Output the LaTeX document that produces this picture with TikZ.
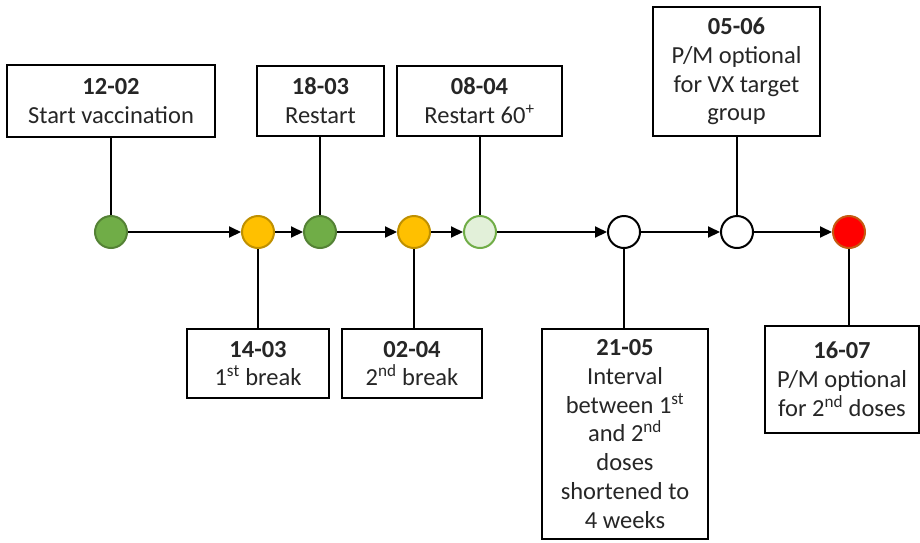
\documentclass[tikz,border=0pt]{standalone}
\usepackage{fontspec}
\setmainfont{Carlito}
\usetikzlibrary{arrows.meta}
\definecolor{dgreen}{HTML}{70AD47}
\definecolor{dgreenb}{HTML}{548235}
\definecolor{lgreen}{HTML}{E2F0D9}
\definecolor{yel}{HTML}{FFC000}
\definecolor{yelb}{HTML}{BF9000}
\definecolor{redf}{HTML}{FF0000}
\definecolor{redb}{HTML}{C55A11}
\definecolor{txt}{HTML}{262626}
\tikzset{
  box/.style={draw=black, line width=2.2pt, fill=white, align=center, inner sep=0pt,
    text=txt, font=\fontsize{24.5}{28.8}\selectfont},
  dot/.style={circle, line width=2pt, minimum size=32pt, inner sep=0pt},
  arr/.style={line width=2pt, -{Triangle[length=12pt,width=11pt]}},
  stem/.style={line width=2.4pt}
}
\begin{document}
\begin{tikzpicture}[x=1pt,y=-1pt]
\useasboundingbox (0,0) rectangle (920,542);
% circles
\node[dot, draw=dgreenb, fill=dgreen] (c1) at (111,232) {};
\node[dot, draw=yelb, fill=yel] (c2) at (258,232) {};
\node[dot, draw=dgreenb, fill=dgreen] (c3) at (320,232) {};
\node[dot, draw=yelb, fill=yel] (c4) at (414,232) {};
\node[dot, draw=dgreen, fill=lgreen] (c5) at (480,232) {};
\node[dot, draw=black, fill=white] (c6) at (624,232) {};
\node[dot, draw=black, fill=white] (c7) at (737,232) {};
\node[dot, draw=redb, fill=redf] (c8) at (849,232) {};
% arrows
\draw[arr] (c1) -- (c2);
\draw[arr] (c2) -- (c3);
\draw[arr] (c3) -- (c4);
\draw[arr] (c4) -- (c5);
\draw[arr] (c5) -- (c6);
\draw[arr] (c6) -- (c7);
\draw[arr] (c7) -- (c8);
% boxes
\node[box, minimum width=208pt, minimum height=72pt] (b1) at (111,101) {\textbf{12-02}\\Start vaccination};
\node[box, minimum width=127pt, minimum height=70pt] (b2) at (320.5,101) {\textbf{18-03}\\Restart};
\node[box, minimum width=165pt, minimum height=70pt] (b3) at (479.5,101) {\textbf{08-04}\\Restart 60\textsuperscript{+}};
\node[box, minimum width=167pt, minimum height=129pt] (b4) at (736.5,71.5) {\textbf{05-06}\\P/M optional\\for VX target\\group};
\node[box, minimum width=142pt, minimum height=69pt] (b5) at (258,363.5) {\textbf{14-03}\\1\textsuperscript{st} break};
\node[box, minimum width=140pt, minimum height=69pt] (b6) at (412,363.5) {\textbf{02-04}\\2\textsuperscript{nd} break};
\node[box, minimum width=166pt, minimum height=210pt] (b7) at (625,434) {\textbf{21-05}\\Interval\\between 1\textsuperscript{st}\\and 2\textsuperscript{nd}\\doses\\shortened to\\4 weeks};
\node[box, minimum width=154pt, minimum height=107pt] (b8) at (842,379.5) {\textbf{16-07}\\P/M optional\\for 2\textsuperscript{nd} doses};
% stems
\draw[stem] (c1) -- (c1 |- b1.south);
\draw[stem] (c3) -- (c3 |- b2.south);
\draw[stem] (c5) -- (c5 |- b3.south);
\draw[stem] (c7) -- (c7 |- b4.south);
\draw[stem] (c2) -- (c2 |- b5.north);
\draw[stem] (c4) -- (c4 |- b6.north);
\draw[stem] (c6) -- (c6 |- b7.north);
\draw[stem] (c8) -- (c8 |- b8.north);
\end{tikzpicture}
\end{document}
